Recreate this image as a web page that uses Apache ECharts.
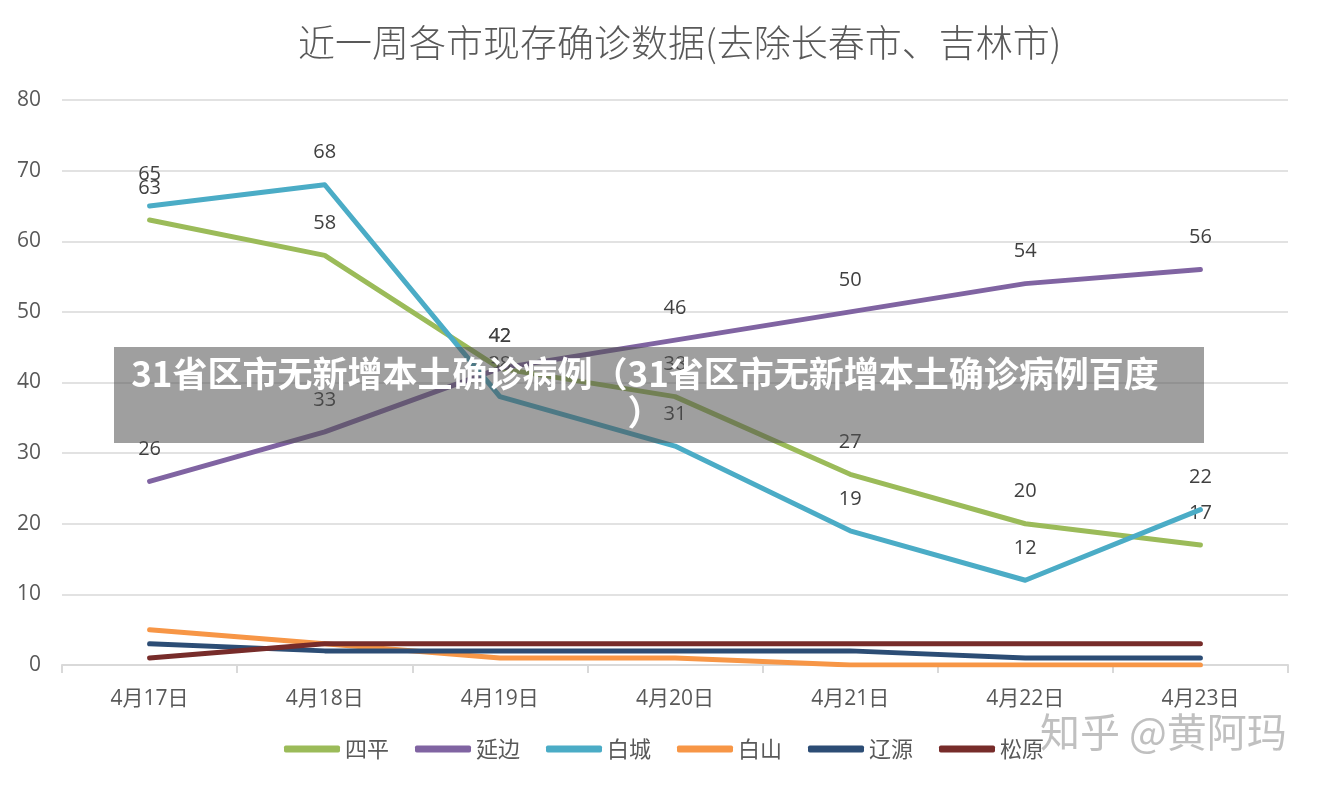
<!DOCTYPE html>
<html><head><meta charset="utf-8">
<script src="https://cdn.jsdelivr.net/npm/echarts@6/dist/echarts.min.js"></script>
<style>html,body{margin:0;padding:0;background:#fff}#c{width:1319px;height:792px}</style>
</head><body><div id="c"></div>
<script>
const categories = ['4月17日','4月18日','4月19日','4月20日','4月21日','4月22日','4月23日'];
const siping   = [63, 58, 42, 38, 27, 20, 17];
const yanbian  = [26, 33, 42, 46, 50, 54, 56];
const baicheng = [65, 68, 38, 31, 19, 12, 22];
const baishan  = [5, 3, 1, 1, 0, 0, 0];
const liaoyuan = [3, 2, 2, 2, 2, 1, 1];
const songyuan = [1, 3, 3, 3, 3, 3, 3];
const seriesNames = ['四平','延边','白城','白山','辽源','松原'];
const colors = ['#9BBB59','#8064A2','#4BACC6','#F79646','#2C4D75','#772C2A'];
const datasets = [siping, yanbian, baicheng, baishan, liaoyuan, songyuan];
const labelled = [true, true, true, false, false, false];

const chart = echarts.init(document.getElementById('c'));
const font = '"Noto Sans CJK SC", "Open Sans", sans-serif';
const mixFont = '"Open Sans", "Noto Sans CJK SC", sans-serif';
chart.setOption({
  animation: false,
  backgroundColor: '#fff',
  color: colors,
  title: {
    text: '近一周各市现存确诊数据(去除长春市、吉林市)',
    left: 293, top: 19,
    textStyle: {fontFamily: font, fontSize: 37, fontWeight: 300, color: '#595959'}
  },
  grid: {left: 62, right: 31, top: 100, bottom: 127},
  legend: {
    bottom: 27, left: 279,
    itemWidth: 56, itemHeight: 7, itemGap: 26,
    icon: 'roundRect',
    textStyle: {fontFamily: font, fontSize: 22, color: '#595959'},
    data: seriesNames
  },
  xAxis: {
    type: 'category', data: categories, boundaryGap: true,
    axisLine: {lineStyle: {color: '#d9d9d9', width: 2}},
    axisTick: {show: true, length: 8, lineStyle: {color: '#d9d9d9', width: 2}},
    axisLabel: {fontFamily: mixFont, fontSize: 21, color: '#595959', margin: 24}
  },
  yAxis: {
    type: 'value', min: 0, max: 80, interval: 10,
    axisLine: {show: false}, axisTick: {show: false},
    splitLine: {lineStyle: {color: '#d9d9d9', width: 1.5}},
    axisLabel: {fontFamily: '"Open Sans", sans-serif', fontSize: 21, color: '#595959', margin: 21}
  },
  series: datasets.map((d, i) => ({
    name: seriesNames[i], type: 'line', data: d,
    symbol: 'circle', symbolSize: 0.01, showSymbol: true, smooth: false,
    itemStyle: {color: colors[i]},
    lineStyle: {width: 5, color: colors[i], cap: 'round', join: 'round'},
    label: {show: labelled[i], position: 'top', distance: 22,
      fontFamily: '"Open Sans", sans-serif', fontSize: 20, color: '#404040'},
    labelLayout: {hideOverlap: false},
    z: 2 + i
  })),
  graphic: [
    {type: 'rect', left: 114, top: 347, z: 100,
      shape: {width: 1090, height: 96}, style: {fill: 'rgba(80,80,80,0.55)'}},
    {type: 'text', x: 645, y: 355, z: 101,
      style: {text: '31省区市无新增本土确诊病例（31省区市无新增本土确诊病例百度\n）',
        fill: '#fff', font: 'bold 35px "Noto Sans CJK SC", sans-serif',
        align: 'center', verticalAlign: 'top', lineHeight: 38}},
    {type: 'text', left: 1040, top: 712, z: 101,
      style: {text: '知乎 @黄阿玛', fill: 'rgba(150,150,150,0.6)',
        font: '40px "Noto Sans CJK SC", sans-serif'}}
  ]
});
</script></body></html>
